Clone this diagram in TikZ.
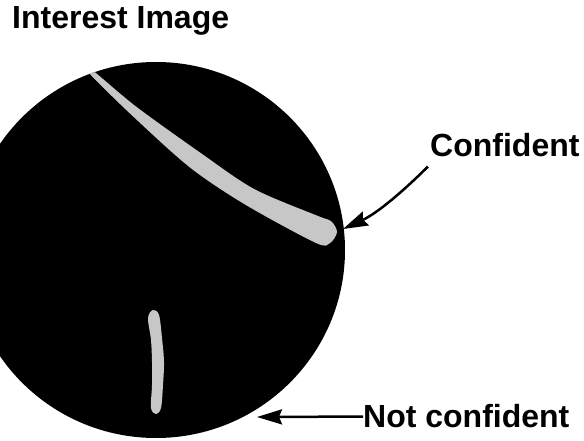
\documentclass[tikz,border=0pt]{standalone}
\usepackage{fontspec}
\setmainfont{Liberation Sans}
\usepackage{tikz}
\usetikzlibrary{arrows.meta}

\tikzset{
  caption/.style={inner sep=0pt,font=\fontsize{32}{38}\selectfont\bfseries},
  streak/.style={fill=black!22},
  pointer/.style={line width=2.5pt,-{Stealth[length=25pt,width=15pt,inset=3pt]}}
}

\begin{document}
\begin{tikzpicture}[x=1pt,y=-1pt]
		\useasboundingbox (0,0) rectangle (584,441);
		\clip (0,0) rectangle (584,441);

		% title
		\node[caption,anchor=base west] (title) at (12,29) {Interest Image};

		% interest disk
		\fill[black] (156,250) ellipse [x radius=189pt,y radius=188pt];

		\begin{scope}
			\clip (156,250) ellipse [x radius=189pt,y radius=188pt];
			% long streak (confident)
			\fill[streak] plot[smooth cycle,tension=0.5] coordinates {
				(92,70) (136,106.5) (200.4,152.8) (254.3,189.1) (318,216) (331,221)
				(337,232) (330,243) (316,243) (245.7,204.9) (189.6,167.2) (130,113.5) (89,73)};

			% short streak (not confident)
			\fill[streak] plot[smooth cycle,tension=0.55] coordinates {
				(153,310) (159,315) (162,338) (164,362) (163,385) (161,408)
				(156,414) (151,408) (152,385) (152,362) (151,340) (148,318)};
		\end{scope}

		% labels
		\node[caption,anchor=base west] (conf) at (430,157) {Confident};
		\node[caption,anchor=base west] (notconf) at (363,427) {Not confident};

		% arrow tips on the disk edge
		\coordinate (conftip) at (343,229);
		\coordinate (notconftip) at (257,417);

		\draw[pointer] ([xshift=-2pt,yshift=-9pt]conf.south west)
			.. controls ++(-18,18) and (380,212) .. (conftip);
		\draw[pointer] ([yshift=-1pt]notconf.west) -- (notconftip);
	\end{tikzpicture}
\end{document}
